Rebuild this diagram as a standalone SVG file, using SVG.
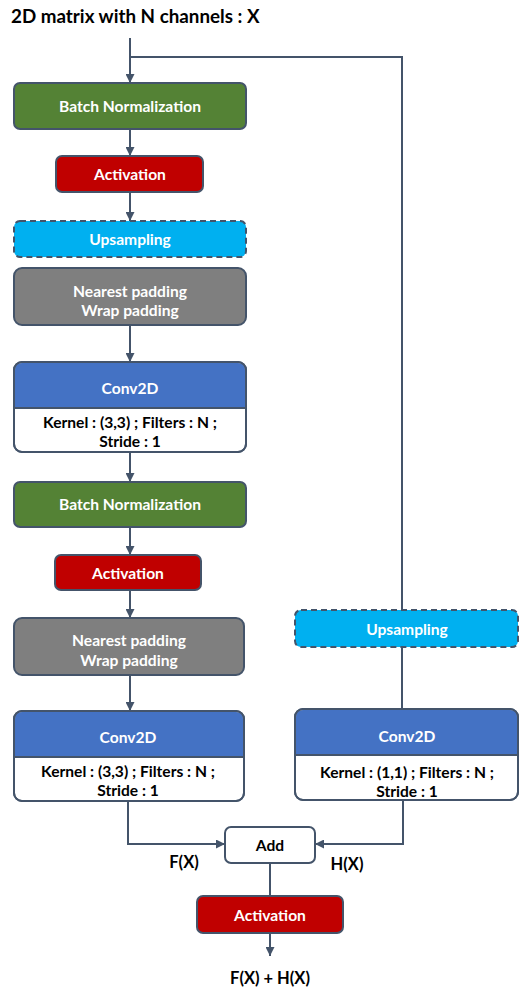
<svg xmlns="http://www.w3.org/2000/svg" width="520" height="994" viewBox="0 0 520 994">
<style>
.box{stroke:#44546A;stroke-width:2}
.bn{fill:#548235}
.act{fill:#C00000}
.up{fill:#00B0F0;stroke-dasharray:6 4}
.pad{fill:#7F7F7F}
.conv{fill:#4472C4}
.wt{fill:#FFFFFF}
text{font-family:Lato,"Open Sans","Liberation Sans",sans-serif;font-weight:bold;font-size:15.6px;text-anchor:middle}
.w{fill:#FFFFFF}
.k{fill:#000000}
.lb{font-size:16.5px}
.c{fill:none;stroke:#44546A;stroke-width:2}
</style>
<defs>
<marker id="ah" viewBox="0 0 10 10" refX="10" refY="5" markerWidth="4.5" markerHeight="4.5" orient="auto" markerUnits="strokeWidth">
<path d="M0,0 L10,5 L0,10 z" fill="#44546A"/>
</marker>
</defs>
<text x="11" y="23" class="k" style="text-anchor:start;font-size:18.8px">2D matrix with N channels : X</text>
<g id="connectors">
<path class="c" d="M130,38 V83" marker-end="url(#ah)"/>
<path class="c" d="M130,57 H402 V610"/>
<path class="c" d="M402,647 V709"/>
<path class="c" d="M130,129 V156" marker-end="url(#ah)"/>
<path class="c" d="M130,192 V221" marker-end="url(#ah)"/>
<path class="c" d="M130,325 V362" marker-end="url(#ah)"/>
<path class="c" d="M130,452 V482" marker-end="url(#ah)"/>
<path class="c" d="M130,527 V555" marker-end="url(#ah)"/>
<path class="c" d="M130,590 V618" marker-end="url(#ah)"/>
<path class="c" d="M130,675 V711" marker-end="url(#ah)"/>
<path class="c" d="M128,801 V844 H225" marker-end="url(#ah)"/>
<path class="c" d="M403,801 V844 H315" marker-end="url(#ah)"/>
<path class="c" d="M270,863 V896"/>
<path class="c" d="M270,933 V956" marker-end="url(#ah)"/>
</g>
<g id="bn1"><rect class="box bn" x="14" y="83" width="232" height="46" rx="6"/><text class="w" x="130" y="112">Batch Normalization</text></g>
<g id="act1"><rect class="box act" x="56" y="156" width="147" height="36" rx="6"/><text class="w" x="130" y="180">Activation</text></g>
<g id="up1"><rect class="box up" x="14" y="221" width="232" height="36" rx="6"/><text class="w" x="130" y="245">Upsampling</text></g>
<g id="pad1"><rect class="box pad" x="14" y="268" width="232" height="57" rx="8"/><text class="w" x="130" y="297">Nearest padding</text><text class="w" x="130" y="316">Wrap padding</text></g>
<g id="conv1"><rect class="box wt" x="14" y="362" width="232" height="90" rx="8"/><path class="conv" d="M15,408 V370 Q15,363 22,363 H238 Q245,363 245,370 V408 z"/><path class="c" d="M14,408 H246"/><rect class="c" x="14" y="362" width="232" height="90" rx="8"/><text class="w" x="130" y="394">Conv2D</text><text class="k" x="130" y="428">Kernel : (3,3) ; Filters : N ;</text><text class="k" x="130" y="447">Stride : 1</text></g>
<g id="bn2"><rect class="box bn" x="14" y="482" width="232" height="45" rx="6"/><text class="w" x="130" y="510">Batch Normalization</text></g>
<g id="act2"><rect class="box act" x="55" y="555" width="146" height="35" rx="6"/><text class="w" x="128" y="579">Activation</text></g>
<g id="pad2"><rect class="box pad" x="14" y="618" width="230" height="57" rx="8"/><text class="w" x="129" y="646">Nearest padding</text><text class="w" x="129" y="666">Wrap padding</text></g>
<g id="conv2"><rect class="box wt" x="14" y="711" width="230" height="90" rx="8"/><path class="conv" d="M15,757 V719 Q15,712 22,712 H236 Q243,712 243,719 V757 z"/><path class="c" d="M14,757 H244"/><rect class="c" x="14" y="711" width="230" height="90" rx="8"/><text class="w" x="128" y="743">Conv2D</text><text class="k" x="128" y="777">Kernel : (3,3) ; Filters : N ;</text><text class="k" x="128" y="796">Stride : 1</text></g>
<g id="up2"><rect class="box up" x="295" y="610" width="223" height="37" rx="6"/><text class="w" x="407" y="635">Upsampling</text></g>
<g id="conv3"><rect class="box wt" x="295" y="709" width="223" height="91" rx="8"/><path class="conv" d="M296,755 V717 Q296,710 303,710 H510 Q517,710 517,717 V755 z"/><path class="c" d="M295,755 H518"/><rect class="c" x="295" y="709" width="223" height="91" rx="8"/><text class="w" x="407" y="742">Conv2D</text><text class="k" x="407" y="778">Kernel : (1,1) ; Filters : N ;</text><text class="k" x="407" y="797">Stride : 1</text></g>
<g id="add"><rect class="box wt" x="225" y="827" width="90" height="36" rx="6"/><text class="k" x="270" y="851">Add</text></g>
<text class="k lb" x="184" y="868">F(X)</text>
<text class="k lb" x="347" y="870">H(X)</text>
<g id="act3"><rect class="box act" x="197" y="896" width="146" height="37" rx="6"/><text class="w" x="270" y="921">Activation</text></g>
<text class="k lb" x="270" y="984">F(X) + H(X)</text>
</svg>
